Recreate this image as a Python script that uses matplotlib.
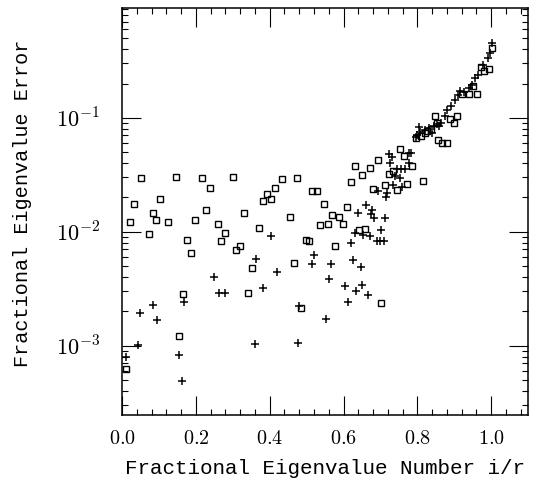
import matplotlib
matplotlib.use("Agg")
import matplotlib.pyplot as plt
from matplotlib.ticker import MultipleLocator, LogLocator, FixedLocator, FixedFormatter, NullFormatter

plt.rcParams['mathtext.fontset'] = 'cm'

# squares (open markers)
sq_x = [0.012, 0.022, 0.033, 0.052, 0.074, 0.083, 0.093, 0.104, 0.125, 0.146,
        0.155, 0.166, 0.176, 0.186, 0.197, 0.217, 0.227, 0.238, 0.259, 0.269,
        0.279, 0.300, 0.309, 0.320, 0.331, 0.340, 0.352, 0.372, 0.383, 0.393,
        0.404, 0.414, 0.434, 0.455, 0.465, 0.475, 0.486, 0.497, 0.507, 0.515,
        0.528, 0.537, 0.547, 0.557, 0.568, 0.578, 0.588, 0.599, 0.610, 0.620,
        0.630, 0.641, 0.651, 0.659, 0.673, 0.680, 0.692, 0.702, 0.712, 0.723,
        0.733, 0.744, 0.754, 0.763, 0.773, 0.785, 0.795, 0.809, 0.816, 0.822,
        0.827, 0.836, 0.847, 0.854, 0.856, 0.868, 0.879, 0.888, 0.899, 0.908,
        0.922, 0.940, 0.952, 0.961, 0.972, 0.980, 0.994, 1.003]
sq_y = [6.3e-4, 0.0121, 0.0177, 0.0299, 0.00947, 0.0145, 0.0127, 0.0195, 0.0122, 0.0302,
        0.00122, 0.00282, 0.00855, 0.00646, 0.0127, 0.0294, 0.0155, 0.0242, 0.0118, 0.00822,
        0.00975, 0.0303, 0.00695, 0.00754, 0.0145, 0.0029, 0.00481, 0.0108, 0.0185, 0.0214,
        0.0194, 0.0242, 0.029, 0.0135, 0.00534, 0.0298, 0.00214, 0.00855, 0.00822, 0.023,
        0.023, 0.0115, 0.0177, 0.0118, 0.014, 0.0075, 0.0135, 0.0118, 0.0165, 0.0276,
        0.0376, 0.0104, 0.0312, 0.0106, 0.0366, 0.0236, 0.0428, 0.00235, 0.0257, 0.0321,
        0.034, 0.0233, 0.0531, 0.0464, 0.0264, 0.0377, 0.0664, 0.0695, 0.0279, 0.0735,
        0.0769, 0.0796, 0.104, 0.0899, 0.0641, 0.0607, 0.060, 0.0974, 0.0909, 0.104,
        0.161, 0.161, 0.191, 0.163, 0.282, 0.255, 0.270, 0.414]

# plus markers
pl_x = [0.011, 0.042, 0.049, 0.085, 0.094, 0.153, 0.162, 0.169, 0.248, 0.262,
        0.279, 0.359, 0.363, 0.381, 0.404, 0.421, 0.476, 0.480, 0.521, 0.515,
        0.552, 0.561, 0.566, 0.605, 0.613, 0.621, 0.625, 0.630, 0.634, 0.639,
        0.646, 0.650, 0.652, 0.662, 0.667, 0.671, 0.675, 0.678, 0.683, 0.691,
        0.700, 0.709, 0.702, 0.711, 0.693, 0.716, 0.718, 0.724, 0.727, 0.732,
        0.735, 0.740, 0.745, 0.753, 0.756, 0.759, 0.766, 0.777, 0.783, 0.777,
        0.795, 0.798, 0.804, 0.807, 0.820, 0.831, 0.839, 0.845, 0.854, 0.858,
        0.863, 0.874, 0.881, 0.890, 0.901, 0.911, 0.915, 0.926, 0.940, 0.949,
        0.955, 0.963, 0.979, 0.990, 0.996, 1.003]
pl_y = [7.9e-4, 1.01e-3, 0.00192, 0.00228, 0.00167, 8.3e-4, 4.9e-4, 0.00242, 0.00397, 0.0029,
        0.00288, 0.00103, 0.00574, 0.00324, 0.0091, 0.0044, 0.00105, 0.00224, 0.0063, 0.00524,
        0.00173, 0.00387, 0.00524, 0.00331, 0.00243, 0.00801, 0.00562, 0.0098, 0.00302, 0.0145,
        0.0049, 0.00343, 0.0093, 0.0173, 0.0028, 0.00923, 0.0142, 0.0154, 0.0133, 0.00822,
        0.00834, 0.00834, 0.0104, 0.0132, 0.0226, 0.0201, 0.0218, 0.0483, 0.0401, 0.0452,
        0.0257, 0.031, 0.0355, 0.0299, 0.0355, 0.0245, 0.0359, 0.049, 0.0496, 0.0401,
        0.0681, 0.0709, 0.0828, 0.0758, 0.0785, 0.0812, 0.0735, 0.0839, 0.0886, 0.0839,
        0.0909, 0.103, 0.116, 0.127, 0.144, 0.159, 0.173, 0.170, 0.182, 0.195,
        0.223, 0.238, 0.292, 0.334, 0.374, 0.455]

xticks = [0.0, 0.2, 0.4, 0.6, 0.8, 1.0]
xtick_labels = [r'$0.0$', r'$0.2$', r'$0.4$', r'$0.6$', r'$0.8$', r'$1.0$']
yticks = [1e-3, 1e-2, 1e-1]
ytick_labels = [r'$10^{-3}$', r'$10^{-2}$', r'$10^{-1}$']

fig = plt.figure(figsize=(5.4, 4.83), dpi=100)
ax = fig.add_axes([0.226, 0.141, 0.752, 0.843])

ax.plot(sq_x, sq_y, 's', ms=4, mfc='none', mec='black', mew=1.0, ls='none')
ax.plot(pl_x, pl_y, '+', ms=5.5, mec='black', mew=1.1, ls='none')

ax.set_yscale('log')
ax.set_xlim(0.0, 1.10)
ax.set_ylim(2.47e-4, 0.925)

ax.xaxis.set_major_locator(FixedLocator(xticks))
ax.xaxis.set_major_formatter(FixedFormatter(xtick_labels))
ax.xaxis.set_minor_locator(MultipleLocator(0.04))
ax.yaxis.set_major_locator(FixedLocator(yticks))
ax.yaxis.set_major_formatter(FixedFormatter(ytick_labels))
ax.yaxis.set_minor_locator(LogLocator(base=10, subs=range(2, 10), numticks=20))
ax.yaxis.set_minor_formatter(NullFormatter())

ax.tick_params(which='both', direction='in', top=True, right=True, width=0.8, colors='black')
ax.tick_params(which='major', length=13.5)
ax.tick_params(which='minor', length=4.5)
ax.tick_params(axis='x', which='major', labelsize=14.5, pad=10)
ax.tick_params(axis='y', which='major', labelsize=16, pad=16)

for s in ax.spines.values():
    s.set_linewidth(1.1)

ax.set_xlabel('Fractional Eigenvalue Number i/r', family='Liberation Mono', fontsize=15)
ax.set_ylabel('Fractional Eigenvalue Error', family='Liberation Mono', fontsize=14.5)
ax.xaxis.set_label_coords(0.5, -0.108)
ax.yaxis.set_label_coords(-0.222, 0.52)

fig.savefig('out.png', dpi=100)
